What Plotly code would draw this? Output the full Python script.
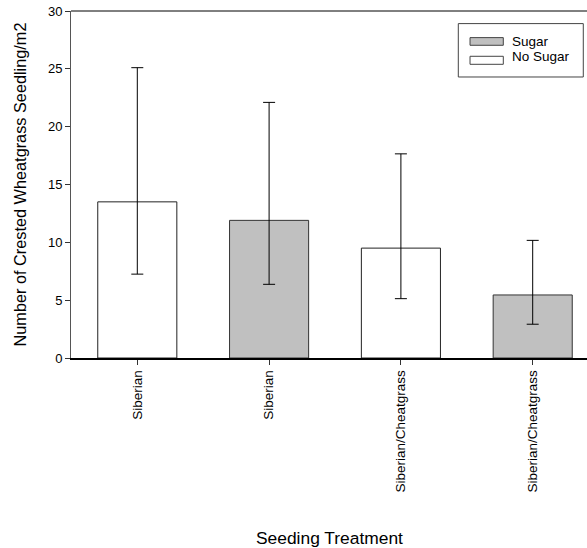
import plotly.graph_objects as go

# ---- data ----
tick_labels = ["Siberian", "Siberian", "Siberian/Cheatgrass", "Siberian/Cheatgrass"]
positions = [0, 1, 2, 3]

nosugar_pos = [0, 2]
nosugar_mean = [13.5, 9.5]
nosugar_hi = [25.1, 17.65]
nosugar_lo = [7.25, 5.13]

sugar_pos = [1, 3]
sugar_mean = [11.9, 5.45]
sugar_hi = [22.1, 10.17]
sugar_lo = [6.37, 2.92]

FONT = "Arial, Liberation Sans, sans-serif"

def err(mean, hi, lo):
    return dict(type="data", symmetric=False,
                array=[h - m for h, m in zip(hi, mean)],
                arrayminus=[m - l for m, l in zip(mean, lo)],
                color="black", thickness=1, width=6)

fig = go.Figure()
fig.add_trace(go.Bar(
    x=nosugar_pos, y=nosugar_mean, width=0.6, name="No Sugar",
    marker=dict(color="white", line=dict(color="#222222", width=1)),
    error_y=err(nosugar_mean, nosugar_hi, nosugar_lo), showlegend=False))
fig.add_trace(go.Bar(
    x=sugar_pos, y=sugar_mean, width=0.6, name="Sugar",
    marker=dict(color="#c0c0c0", line=dict(color="#333333", width=1)),
    error_y=err(sugar_mean, sugar_hi, sugar_lo), showlegend=False))

shapes = [
    # top frame line
    dict(type="line", xref="paper", yref="paper", x0=0, x1=1, y0=1, y1=1,
         line=dict(color="black", width=1)),
    # manual legend (rectangular swatches)
    dict(type="rect", xref="paper", yref="paper", x0=0.7506, x1=0.9928, y0=0.8098, y1=0.9637,
         line=dict(color="#444444", width=1), fillcolor="white", layer="above"),
    dict(type="rect", xref="paper", yref="paper", x0=0.7733, x1=0.8378, y0=0.9012, y1=0.9233,
         line=dict(color="#444444", width=1), fillcolor="#c0c0c0", layer="above"),
    dict(type="rect", xref="paper", yref="paper", x0=0.7733, x1=0.8378, y0=0.8464, y1=0.8695,
         line=dict(color="#444444", width=1), fillcolor="white", layer="above"),
]
annotations = [
    dict(text="Sugar", xref="paper", yref="paper", x=0.8508, y=0.9125, xanchor="left",
         yanchor="middle", showarrow=False, font=dict(size=13.5, color="black", family=FONT)),
    dict(text="No Sugar", xref="paper", yref="paper", x=0.8508, y=0.8685, xanchor="left",
         yanchor="middle", showarrow=False, font=dict(size=13.5, color="black", family=FONT)),
    dict(text="Seeding Treatment", xref="paper", yref="paper", x=0.5, y=-0.5196,
         xanchor="center", yanchor="middle", showarrow=False,
         font=dict(size=17.4, color="black", family=FONT)),
]

fig.update_layout(
    width=587, height=548,
    margin=dict(l=71, r=0, t=11, b=190, autoexpand=False),
    paper_bgcolor="white", plot_bgcolor="white",
    font=dict(family=FONT, color="black", size=13),
    bargap=0.4, shapes=shapes, annotations=annotations,
    xaxis=dict(
        range=[-0.503, 3.412], tickmode="array", tickvals=positions, ticktext=tick_labels,
        tickangle=-90, ticks="outside", ticklen=5, tickcolor="#333333",
        showline=True, linecolor="black", linewidth=1.5,
        showgrid=False, zeroline=False, tickfont=dict(size=13.5),
    ),
    yaxis=dict(
        range=[0, 30], tickvals=[0, 5, 10, 15, 20, 25, 30],
        ticks="outside", ticklen=5, tickcolor="#333333",
        showline=True, linecolor="#555555", linewidth=1,
        showgrid=False, zeroline=False, tickfont=dict(size=13),
        title=dict(text="Number of Crested Wheatgrass Seedling/m2", font=dict(size=16.3), standoff=17),
    ),
)

fig.write_html("out.html", config={"displayModeBar": False},
               post_script="document.body.style.margin='0';")
